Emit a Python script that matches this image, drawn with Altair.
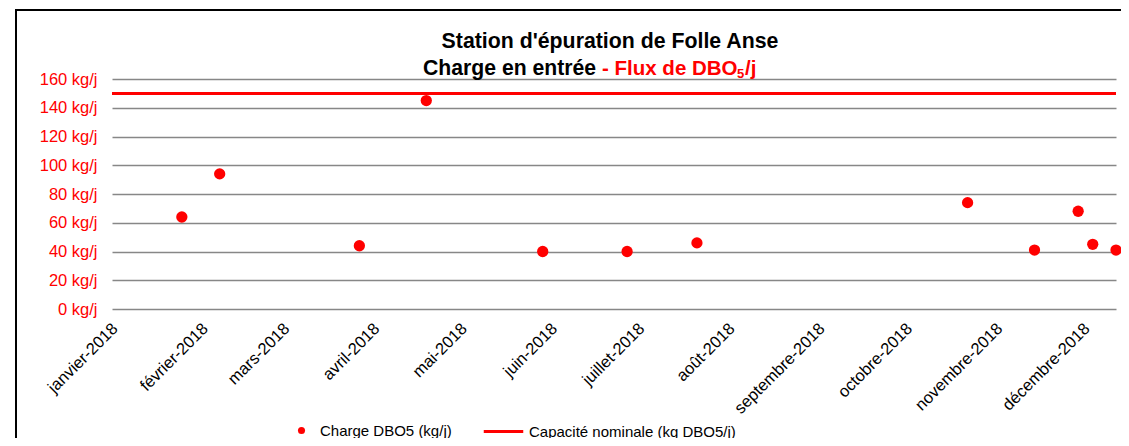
import altair as alt
import pandas as pd

# ---- data ----
dates = ["2018-01-25", "2018-02-07", "2018-03-27", "2018-04-19", "2018-05-29",
         "2018-06-27", "2018-07-21", "2018-10-22", "2018-11-14", "2018-11-29",
         "2018-12-04", "2018-12-12"]
charge = [64, 94, 44, 145, 40, 40, 46, 74, 41, 68, 45, 41]
capacite = [150]
mois = ["janvier", "février", "mars", "avril", "mai", "juin", "juillet",
        "août", "septembre", "octobre", "novembre", "décembre"]
y_ticks = [0, 20, 40, 60, 80, 100, 120, 140, 160]
x_range = ["2018-01-01", "2018-12-12"]

serie_points = "Charge DBO5 (kg/j)"
serie_ligne = "Capacité nominale (kg DBO5/j)"

FONT = "Liberation Sans"
RED = "#ff0000"


def to_ms(s):
    return int(pd.Timestamp(s, tz="UTC").timestamp() * 1000)


month_ticks = [to_ms(f"2018-{m:02d}-01") for m in range(1, 13)]
mois_js = "[" + ",".join(f"'{m}'" for m in mois) + "]"

df = pd.DataFrame({"date": dates, "charge": charge, "serie": serie_points})
df_cap = pd.DataFrame({"cap": capacite, "serie": serie_ligne})
one = pd.DataFrame({"k": [0]})

x_enc = alt.X(
    "date:T",
    title=None,
    scale=alt.Scale(type="utc", domain=[to_ms(x_range[0]), to_ms(x_range[1])]),
    axis=alt.Axis(
        values=month_ticks,
        labelExpr=mois_js + "[utcmonth(datum.value)] + '-' + utcyear(datum.value)",
        labelAngle=-45, labelAlign="right", labelBaseline="top",
        labelPadding=11, labelOffset=-3,
        labelFontSize=16.5, labelColor="black", labelFont=FONT,
        labelOverlap=False, labelBound=False, ticks=False, domain=False, grid=False,
    ),
)
y_enc = alt.Y(
    "charge:Q",
    title=None,
    scale=alt.Scale(domain=[0, 160], nice=False, zero=True),
    axis=alt.Axis(
        values=y_ticks,
        labelExpr="datum.value + ' kg/j'",
        labelColor=RED, labelFontSize=16.5, labelFont=FONT, labelPadding=15,
        labelOverlap=False, labelBound=False,
        ticks=False, domain=False, grid=True, gridColor="#878787", gridWidth=1.5,
    ),
)

points = alt.Chart(df).mark_circle(size=127, opacity=1).encode(
    x=x_enc,
    y=y_enc,
    fill=alt.Fill(
        "serie:N",
        scale=alt.Scale(range=[RED]),
        legend=alt.Legend(
            title=None, orient="none", legendX=182, legendY=344,
            symbolType="circle", symbolSize=50, labelOffset=11, labelLimit=400,
            labelFontSize=15, labelFont=FONT, labelColor="black",
        ),
    ),
)

rule = alt.Chart(df_cap).mark_rule(strokeWidth=3).encode(
    y=alt.Y("cap:Q", axis=None),
    stroke=alt.Stroke(
        "serie:N",
        scale=alt.Scale(range=[RED]),
        legend=alt.Legend(
            title=None, orient="none", legendX=370, legendY=331,
            symbolType="stroke", symbolSize=1560, symbolStrokeWidth=3,
            labelOffset=4, labelLimit=400,
            labelFontSize=15, labelFont=FONT, labelColor="black",
        ),
    ),
)


def txt(s, x, y, size=20.5, color="black", align="left", weight="bold"):
    return alt.Chart(one).mark_text(
        text=s, align=align, baseline="alphabetic", font=FONT,
        fontSize=size, fontWeight=weight, color=color,
    ).encode(x=alt.value(x), y=alt.value(y))


titles = [
    txt("Station d'épuration de Folle Anse", 498, -31, size=21.3, align="center"),
    txt("Charge en entrée", 311, -4, size=21.2),
    txt("- Flux de DBO", 490, -4, color=RED),
    txt("5", 625, -1, size=13, color=RED),
    txt("/j", 633, -4, color=RED),
]

# chart-area frame (left and top edges; the others lie outside the picture)
frame_left = alt.Chart(one).mark_rule(color="black", strokeWidth=2).encode(
    x=alt.value(-96), y=alt.value(-70), y2=alt.value(400)
)
frame_top = alt.Chart(one).mark_rule(color="black", strokeWidth=2).encode(
    x=alt.value(-97), x2=alt.value(1300), y=alt.value(-69)
)

chart = alt.layer(frame_left, frame_top, rule, points, *titles).resolve_scale(
    fill="independent", stroke="independent"
).resolve_axis(y="independent").properties(
    width=1004, height=230,
    autosize="none",
    padding={"left": 104, "top": 71, "right": 5, "bottom": 129},
    background="white",
).configure_view(stroke=None)

chart.save("out.html", embed_options={"renderer": "svg", "actions": False})
